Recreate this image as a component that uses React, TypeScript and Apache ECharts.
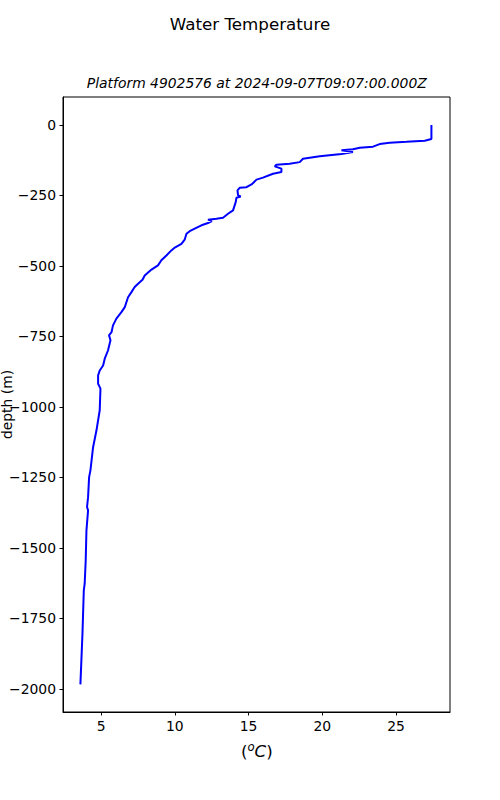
import React, { useEffect, useRef } from "react";
import * as echarts from "echarts";

const depth: number[] = [
  0, -50, -56, -60, -63, -68, -77, -81, -86, -90, -96, -103, -111, -120, -132, -138, -141, -147, -155, -167,
  -173, -187, -194, -206, -211, -221, -223, -232, -250, -254, -258, -274, -303, -315, -329, -333, -336, -341,
  -348, -356, -368, -377, -386, -407, -422, -435, -445, -463, -480, -498, -513, -534, -549, -563, -575, -593,
  -611, -646, -664, -687, -711, -735, -746, -764, -800, -829, -853, -871, -888, -918, -935, -1012, -1083,
  -1143, -1225, -1249, -1320, -1355, -1367, -1438, -1544, -1627, -1651, -1804, -1984,
];
const temperature: number[] = [
  27.4, 27.4, 26.95, 25.71, 24.57, 23.89, 23.44, 22.54, 22.08, 21.3, 22.08, 21.3, 19.83, 18.69, 18.47, 17.79,
  16.89, 16.78, 17.23, 17.23, 16.66, 15.98, 15.54, 15.31, 15.2, 14.86, 14.4, 14.25, 14.29, 14.47, 14.18,
  14.13, 13.95, 13.61, 13.27, 12.82, 12.25, 12.51, 12.25, 11.81, 11.35, 11.01, 10.79, 10.67, 10.45, 10.0,
  9.77, 9.43, 9.09, 8.86, 8.42, 7.96, 7.81, 7.51, 7.28, 7.06, 6.83, 6.61, 6.38, 6.04, 5.81, 5.71, 5.54, 5.64,
  5.47, 5.25, 5.14, 4.91, 4.8, 4.8, 4.96, 4.91, 4.69, 4.46, 4.28, 4.19, 4.12, 4.05, 4.12, 4.01, 3.96, 3.89,
  3.83, 3.74, 3.6,
];
const xTicks: number[] = [5, 10, 15, 20, 25];
const yTicks: number[] = [0, -250, -500, -750, -1000, -1250, -1500, -1750, -2000];

const mainTitle = "Water Temperature";
const subTitle = "Platform 4902576 at 2024-09-07T09:07:00.000Z";
const yName = "depth (m)";

const FONT = "DejaVu Sans";
const fmt = (v: number) => (v < 0 ? "\u2212" + Math.abs(v) : String(v));

export default function App() {
  const ref = useRef<HTMLDivElement>(null);
  useEffect(() => {
    if (!ref.current) return;
    const chart = echarts.init(ref.current, null, { renderer: "svg" });
    const data = depth.map((d, i) => [temperature[i], d]);
    chart.setOption({
      animation: false,
      backgroundColor: "#ffffff",
      grid: {
        left: 63,
        top: 97,
        width: 387,
        height: 615,
        show: true,
        borderColor: "#000000",
        borderWidth: 1,
        backgroundColor: "transparent",
      },
      xAxis: {
        type: "value",
        min: 2.42,
        max: 28.66,
        splitLine: { show: false },
        axisLine: { show: true, onZero: false, lineStyle: { color: "#000", width: 1 } },
        axisTick: { show: true, length: 3.5, customValues: xTicks, lineStyle: { color: "#000", width: 1 } },
        axisLabel: {
          customValues: xTicks,
          formatter: fmt,
          margin: 7,
          color: "#000",
          fontFamily: FONT,
          fontSize: 13.9,
        },
      },
      yAxis: {
        type: "value",
        min: -2082,
        max: 99,
        splitLine: { show: false },
        axisLine: { show: true, onZero: false, lineStyle: { color: "#000", width: 1 } },
        axisTick: { show: true, length: 3.5, customValues: yTicks, lineStyle: { color: "#000", width: 1 } },
        axisLabel: {
          customValues: yTicks,
          formatter: fmt,
          margin: 7,
          color: "#000",
          fontFamily: FONT,
          fontSize: 13.9,
        },
      },
      series: [
        {
          type: "line",
          data,
          showSymbol: false,
          symbol: "none",
          lineStyle: { color: "#0000ff", width: 2 },
          itemStyle: { color: "#0000ff" },
        },
      ],
      graphic: [
        {
          type: "text",
          x: 250,
          y: 24,
          style: {
            text: mainTitle,
            align: "center",
            verticalAlign: "middle",
            font: `16.7px "${FONT}"`,
            fill: "#000",
          },
        },
        {
          type: "text",
          x: 256.8,
          y: 83,
          style: {
            text: subTitle,
            align: "center",
            verticalAlign: "middle",
            font: `italic 13.9px "${FONT}"`,
            fill: "#000",
          },
        },
        {
          type: "text",
          x: 7,
          y: 404.5,
          rotation: Math.PI / 2,
          style: {
            text: yName,
            align: "center",
            verticalAlign: "middle",
            font: `13.9px "${FONT}"`,
            fill: "#000",
          },
        },
        {
          type: "text",
          x: 256.8,
          y: 751,
          style: {
            text: "{p|(}{s|o}{c|C}{p|)}",
            align: "center",
            verticalAlign: "middle",
            fill: "#000",
            rich: {
              p: { fontFamily: FONT, fontSize: 16.7, fill: "#000" },
              s: { fontFamily: FONT, fontSize: 11.7, fontStyle: "italic", fill: "#000", padding: [0, 0, 9, 0] },
              c: { fontFamily: FONT, fontSize: 16.7, fontStyle: "italic", fill: "#000" },
            },
          },
        },
      ],
    });
    return () => chart.dispose();
  }, []);
  return (
    <div
      ref={ref}
      style={{ position: "absolute", left: 0, top: 0, width: 500, height: 800 }}
    />
  );
}
